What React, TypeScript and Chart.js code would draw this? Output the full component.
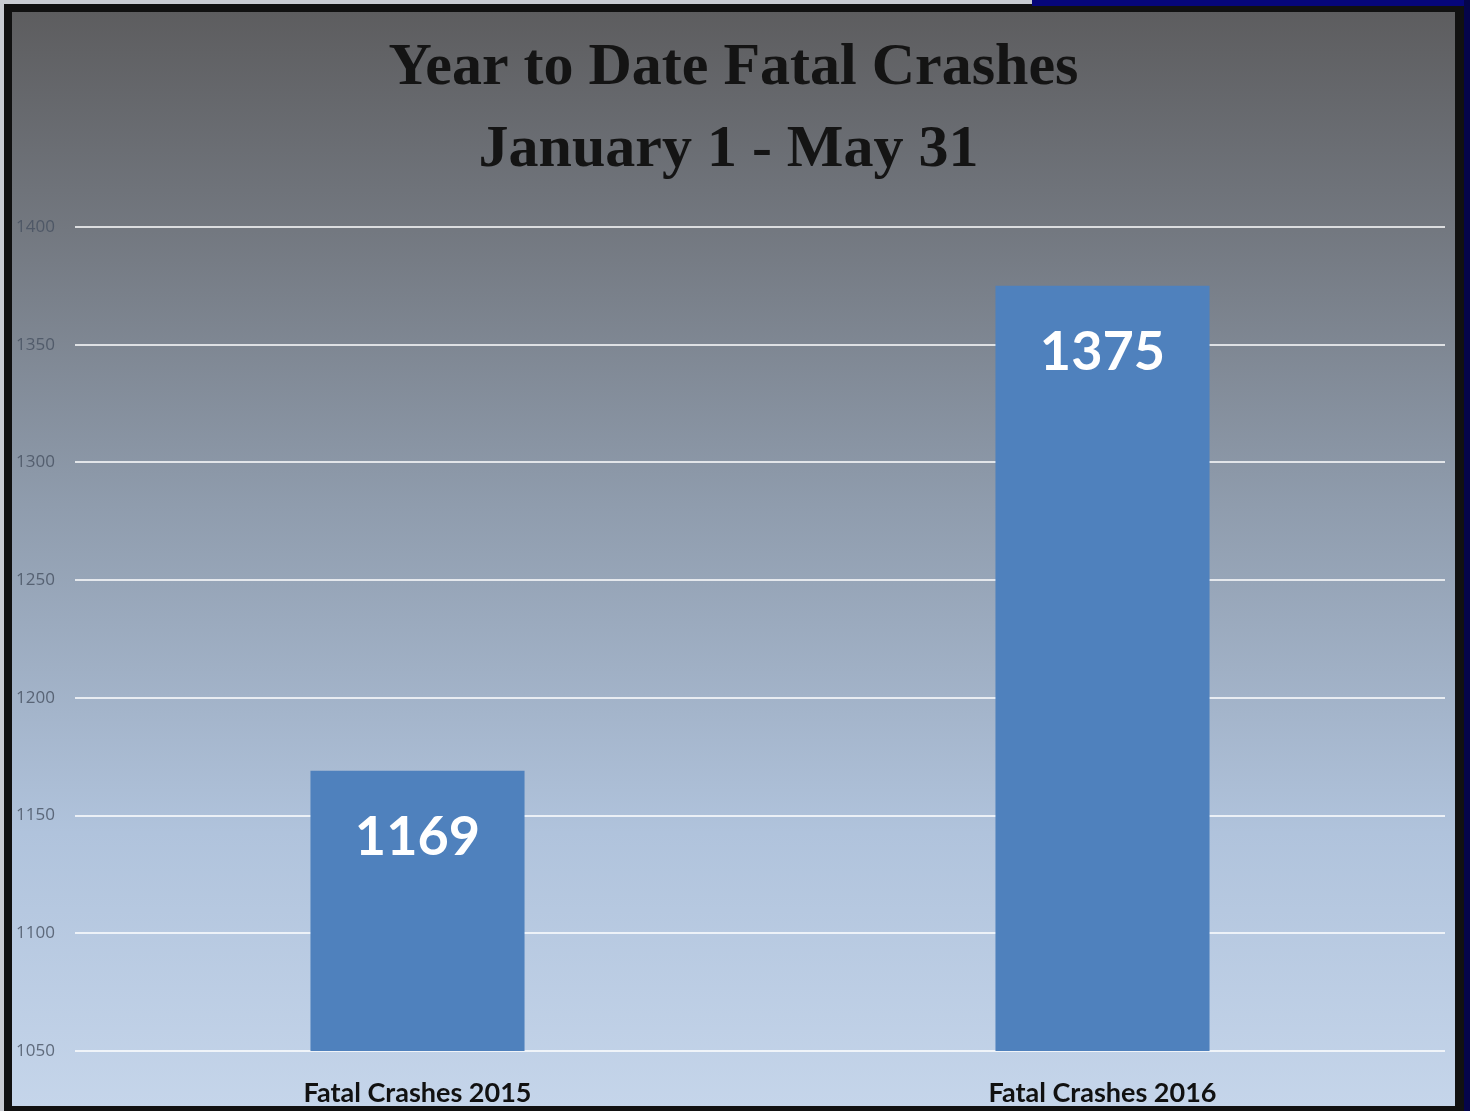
import React, { useEffect, useRef } from "react";
import { Chart, registerables } from "chart.js";

Chart.register(...registerables);

const categories = ["Fatal Crashes 2015", "Fatal Crashes 2016"];
const crashes = [1169, 1375];
const titleLines = ["Year to Date Fatal Crashes", "January 1 - May 31"];
const yMin = 1050;
const yMax = 1400;
const yStep = 50;

const CANVAS_W = 1443;
const CANVAS_H = 1094;

const overlayPlugin = {
  id: "overlay",
  afterDatasetsDraw(chart: any) {
    const ctx = chart.ctx;
    const meta = chart.getDatasetMeta(0);
    ctx.save();
    ctx.fillStyle = "#ffffff";
    ctx.font = "bold 54px Lato";
    ctx.textAlign = "center";
    ctx.textBaseline = "alphabetic";
    meta.data.forEach((bar: any, i: number) => {
      ctx.fillText(String(crashes[i]), bar.x, bar.y + 84);
    });
    ctx.fillStyle = "#141414";
    ctx.font = "bold 60px 'Liberation Serif'";
    const cx = chart.width / 2;
    ctx.fillText(titleLines[0], cx, 72);
    ctx.fillText(titleLines[1], cx - 5, 154);
    ctx.restore();
  },
};

export default function App() {
  const ref = useRef<HTMLCanvasElement | null>(null);

  useEffect(() => {
    if (!ref.current) return;
    const chart = new Chart(ref.current, {
      type: "bar",
      data: {
        labels: categories,
        datasets: [
          {
            data: crashes,
            backgroundColor: "#4f81bd",
            borderWidth: 0,
            categoryPercentage: 1,
            barPercentage: 0.3125,
          },
        ],
      },
      options: {
        responsive: false,
        animation: false,
        layout: { padding: { top: 215, right: 10, left: 0, bottom: 0 } },
        plugins: {
          legend: { display: false },
          tooltip: { enabled: false },
          title: { display: false },
        },
        scales: {
          x: {
            grid: { display: false, drawTicks: false },
            border: { display: false },
            ticks: {
              color: "#111111",
              font: { family: "Lato", weight: "bold", size: 27 },
              padding: 26,
            },
            afterFit: (s: any) => {
              s.height = 55;
            },
          },
          y: {
            min: yMin,
            max: yMax,
            ticks: {
              stepSize: yStep,
              color: "rgba(70,80,96,0.8)",
              font: { family: "Open Sans", size: 17 },
              padding: 20,
              callback: (v: any) => String(v),
            },
            grid: {
              color: "rgba(255,255,255,0.75)",
              lineWidth: 2,
              drawTicks: false,
            },
            border: { display: false },
            afterFit: (s: any) => {
              s.width = 63;
            },
          },
        },
      },
      plugins: [overlayPlugin],
    } as any);
    return () => chart.destroy();
  }, []);

  return (
    <div
      style={{
        position: "fixed",
        left: 0,
        top: 0,
        width: 1470,
        height: 1111,
        background: "#111111",
        overflow: "hidden",
      }}
    >
      <div style={{ position: "absolute", left: 0, top: 0, width: 1032, height: 4, background: "#c9ccd2" }} />
      <div style={{ position: "absolute", left: 0, top: 0, width: 4, height: 1111, background: "#c9ccd2" }} />
      <div style={{ position: "absolute", left: 1032, top: 0, width: 438, height: 6, background: "#06067a" }} />
      <div style={{ position: "absolute", left: 1464, top: 0, width: 6, height: 1111, background: "#05054a" }} />
      <div
        style={{
          position: "absolute",
          left: 12,
          top: 12,
          width: CANVAS_W,
          height: CANVAS_H,
          background:
            "linear-gradient(to bottom, #5d5d5f 0%, #737880 20%, #8f9cad 45%, #b0c3dc 75%, #c5d5ea 100%)",
        }}
      >
        <canvas ref={ref} width={CANVAS_W} height={CANVAS_H} style={{ display: "block" }} />
      </div>
    </div>
  );
}
